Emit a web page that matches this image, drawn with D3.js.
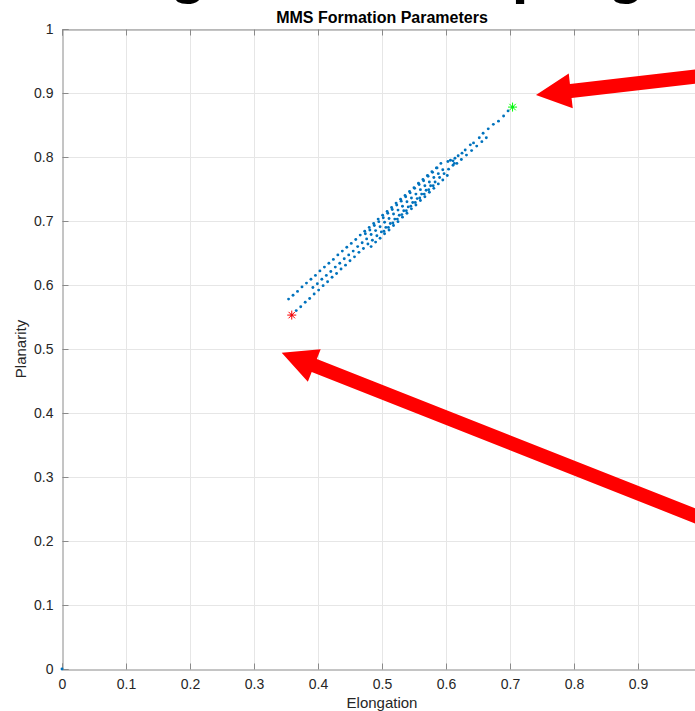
<!DOCTYPE html>
<html>
<head>
<meta charset="utf-8">
<script src="https://cdn.jsdelivr.net/npm/d3@7"></script>
<style>
  html, body { margin: 0; padding: 0; background: #fff; }
  svg { display: block; font-family: "Liberation Sans", Arial, Helvetica, sans-serif; }
</style>
</head>
<body>
<svg id="chart" width="695" height="711"></svg>
<script>
// Elongation / planarity samples of the MMS tetrahedron, grouped by pass through the band
const passA = [[0.354,0.578],[0.361,0.584],[0.368,0.590],[0.375,0.597],[0.382,0.603],[0.389,0.609],[0.396,0.615],[0.403,0.622],[0.410,0.628],[0.417,0.634],[0.424,0.640],[0.431,0.647],[0.438,0.653],[0.445,0.659],[0.452,0.665],[0.459,0.671],[0.466,0.678],[0.473,0.684],[0.480,0.690],[0.487,0.696],[0.494,0.703],[0.501,0.709],[0.508,0.715],[0.515,0.721],[0.522,0.728],[0.529,0.734],[0.536,0.740],[0.543,0.746],[0.550,0.752],[0.557,0.759],[0.564,0.765],[0.571,0.771],[0.578,0.777],[0.585,0.783],[0.592,0.790]];
const passB = [[0.359,0.553],[0.366,0.560],[0.373,0.566],[0.380,0.573],[0.387,0.579],[0.394,0.586],[0.401,0.592],[0.408,0.599],[0.415,0.605],[0.422,0.612],[0.429,0.618],[0.436,0.625],[0.443,0.631],[0.450,0.638],[0.457,0.644],[0.464,0.651],[0.471,0.657],[0.478,0.664],[0.485,0.670],[0.492,0.677],[0.499,0.683],[0.506,0.690],[0.513,0.696],[0.520,0.703],[0.527,0.709],[0.534,0.716],[0.541,0.722],[0.548,0.729],[0.555,0.735],[0.562,0.742],[0.569,0.748],[0.576,0.755],[0.583,0.761],[0.590,0.768],[0.597,0.774],[0.604,0.781],[0.611,0.787]];
const passC = [[0.392,0.596],[0.399,0.602],[0.406,0.609],[0.413,0.615],[0.420,0.621],[0.427,0.628],[0.434,0.634],[0.441,0.641],[0.448,0.647],[0.455,0.653],[0.462,0.660],[0.469,0.666],[0.476,0.672],[0.483,0.679],[0.490,0.685],[0.497,0.691],[0.504,0.698],[0.511,0.704],[0.518,0.711],[0.525,0.717],[0.532,0.723],[0.539,0.730],[0.546,0.736],[0.553,0.742],[0.560,0.749],[0.567,0.755],[0.574,0.761],[0.581,0.768],[0.588,0.774],[0.595,0.780]];
const passD = [[0.483,0.660],[0.490,0.667],[0.497,0.673],[0.504,0.680],[0.511,0.686],[0.518,0.693],[0.525,0.699],[0.532,0.706],[0.539,0.712],[0.546,0.719],[0.553,0.725],[0.560,0.732],[0.567,0.738],[0.574,0.745],[0.581,0.751],[0.588,0.758],[0.595,0.764],[0.602,0.771]];
const passE = [[0.474,0.680],[0.481,0.686],[0.488,0.693],[0.495,0.699],[0.502,0.705],[0.509,0.712],[0.516,0.718],[0.523,0.725],[0.530,0.731],[0.537,0.738],[0.544,0.744],[0.551,0.751],[0.558,0.757],[0.565,0.763],[0.572,0.770],[0.579,0.776],[0.586,0.783],[0.603,0.793],[0.607,0.795],[0.611,0.794],[0.613,0.790]];
const passF = [[0.614,0.798],[0.619,0.802],[0.625,0.806],[0.630,0.811],[0.638,0.819],[0.643,0.822],[0.652,0.830],[0.658,0.837],[0.666,0.844],[0.674,0.851],[0.682,0.856],[0.690,0.864],[0.697,0.872],[0.704,0.878]];
const passG = [[0.617,0.790],[0.624,0.796],[0.632,0.803],[0.640,0.810],[0.648,0.817],[0.656,0.824],[0.663,0.830]];
const passH = [[0.503,0.684],[0.510,0.690],[0.517,0.697],[0.524,0.703],[0.531,0.710],[0.538,0.716],[0.545,0.723],[0.552,0.729],[0.559,0.736],[0.566,0.742],[0.573,0.749],[0.580,0.755]];
const origin = [[0,0]];

const startPoint = [0.359, 0.553];
const endPoint = [0.704, 0.878];

const xTicks = [0, 0.1, 0.2, 0.3, 0.4, 0.5, 0.6, 0.7, 0.8, 0.9, 1];
const yTicks = [0, 0.1, 0.2, 0.3, 0.4, 0.5, 0.6, 0.7, 0.8, 0.9, 1];

const titleText = "MMS Formation Parameters";
const xLabel = "Elongation";
const yLabel = "Planarity";

// Arrow annotations in data coordinates: [tip, tail]
const arrowEnd = [[0.7406, 0.8969], [1.01, 0.928]];
const arrowStart = [[0.3433, 0.4942], [1.01, 0.231]];

const svg = d3.select("#chart");
const plotLeft = 62, plotTop = 29, plotSize = 640;

const x = d3.scaleLinear().domain([0, 1]).range([plotLeft, plotLeft + plotSize]);
const y = d3.scaleLinear().domain([0, 1]).range([plotTop + plotSize, plotTop]);

// Slide heading above the figure (only its lowest strokes are in frame)
const heading = svg.append("g").attr("font-size", 60).attr("font-weight", "bold").attr("fill", "#000")
  .attr("text-anchor", "middle");
heading.append("text").attr("x", 188).attr("y", -8).text("g");
heading.append("text").attr("x", 530).attr("y", -8).text("p");
heading.append("text").attr("x", 626).attr("y", -8).text("g");

// grid
const grid = svg.append("g").attr("stroke", "#e6e6e6").attr("stroke-width", 1);
grid.selectAll(".gx").data(xTicks.slice(1)).join("line")
  .attr("x1", d => Math.round(x(d)) + 0.5).attr("x2", d => Math.round(x(d)) + 0.5)
  .attr("y1", plotTop).attr("y2", plotTop + plotSize);
grid.selectAll(".gy").data(yTicks.slice(1)).join("line")
  .attr("y1", d => Math.round(y(d)) + 0.5).attr("y2", d => Math.round(y(d)) + 0.5)
  .attr("x1", plotLeft).attr("x2", plotLeft + plotSize);

// axes (ticks point inward)
const fmt = d => d3.format("")(d);
const axisColor = "#8a8a8a";
const xAxis = svg.append("g").attr("transform", `translate(0,${plotTop + plotSize + 0.5})`)
  .call(d3.axisBottom(x).tickValues(xTicks).tickSize(-6).tickPadding(10).tickFormat(fmt));
const yAxis = svg.append("g").attr("transform", `translate(${plotLeft + 0.5},0)`)
  .call(d3.axisLeft(y).tickValues(yTicks).tickSize(-6).tickPadding(9).tickFormat(fmt));
const xTop = svg.append("g").attr("transform", `translate(0,${plotTop + 0.5})`)
  .call(d3.axisTop(x).tickValues(xTicks).tickSize(-6).tickFormat(""));
[xAxis, yAxis, xTop].forEach(g => {
  g.select(".domain").attr("stroke", axisColor);
  g.selectAll(".tick line").attr("stroke", axisColor);
  g.selectAll(".tick text").attr("fill", "#262626").attr("font-size", 14)
    .attr("font-family", "Liberation Sans, Arial, sans-serif");
});

// samples
const allPasses = [origin, passA, passB, passC, passD, passE, passF, passG, passH];
svg.append("g").attr("fill", "#0072BD")
  .selectAll("circle").data(allPasses.flat()).join("circle")
  .attr("cx", d => x(d[0])).attr("cy", d => y(d[1])).attr("r", 1.45);

// start / end markers (asterisks)
function asterisk(p, color) {
  const cx = x(p[0]), cy = y(p[1]), r = 4.5, dg = r * 0.72;
  const g = svg.append("g").attr("stroke", color).attr("stroke-width", 1);
  [[-r, 0, r, 0], [0, -r, 0, r], [-dg, -dg, dg, dg], [-dg, dg, dg, -dg]].forEach(s => {
    g.append("line").attr("x1", cx + s[0]).attr("y1", cy + s[1]).attr("x2", cx + s[2]).attr("y2", cy + s[3]);
  });
}
asterisk(startPoint, "#ff0000");
asterisk(endPoint, "#00ff00");

// title and axis labels
svg.append("text").attr("x", x(0.5)).attr("y", 23).attr("text-anchor", "middle")
  .attr("font-size", 16).attr("font-weight", "bold").attr("fill", "#000").text(titleText);
svg.append("text").attr("x", x(0.5)).attr("y", 708).attr("text-anchor", "middle")
  .attr("font-size", 15).attr("fill", "#262626").text(xLabel);
svg.append("text").attr("transform", `translate(26,${y(0.5)}) rotate(-90)`).attr("text-anchor", "middle")
  .attr("font-size", 15).attr("fill", "#262626").text(yLabel);

// red callout arrows
function arrow(a) {
  const tx = x(a[0][0]), ty = y(a[0][1]), ex = x(a[1][0]), ey = y(a[1][1]);
  const len = Math.hypot(ex - tx, ey - ty), ux = (ex - tx) / len, uy = (ey - ty) / len;
  const nx = -uy, ny = ux;
  const headL = 35, headW = 17.5, shaftW = 7;
  const bx = tx + ux * headL, by = ty + uy * headL;
  const pts = [
    [tx, ty],
    [bx + nx * headW, by + ny * headW],
    [bx + nx * shaftW, by + ny * shaftW],
    [ex + nx * shaftW, ey + ny * shaftW],
    [ex - nx * shaftW, ey - ny * shaftW],
    [bx - nx * shaftW, by - ny * shaftW],
    [bx - nx * headW, by - ny * headW]
  ];
  svg.append("path").attr("d", d3.line()(pts) + "Z").attr("fill", "#ff0000");
}
arrow(arrowEnd);
arrow(arrowStart);
</script>
</body>
</html>
